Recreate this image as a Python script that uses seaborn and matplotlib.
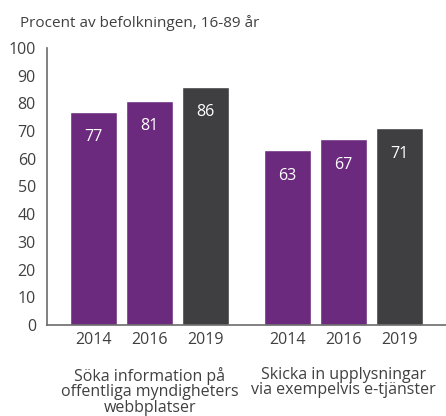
import matplotlib
matplotlib.use("Agg")
import matplotlib.pyplot as plt
import matplotlib.transforms as mtransforms
import seaborn as sns
import pandas as pd

categories = ["Söka information på\noffentliga myndigheters\nwebbplatser",
              "Skicka in upplysningar\nvia exempelvis e-tjänster"]
years = ["2014", "2016", "2019"]
values_cat1 = [77, 81, 86]
values_cat2 = [63, 67, 71]
yticks = list(range(0, 101, 10))
title = "Procent av befolkningen, 16-89 år"

purple = "#6C2A7E"
dark = "#3F3F41"
textc = "#404040"

sns.set_theme(style="white")
plt.rcParams['font.family'] = ['Open Sans', 'DejaVu Sans']

rows = []
for cat, vals in zip(categories, [values_cat1, values_cat2]):
    for y, v in zip(years, vals):
        rows.append({"cat": cat, "year": y, "value": v})
df = pd.DataFrame(rows)

fig = plt.figure(figsize=(4.46, 4.16), dpi=100)
ax = fig.add_axes([47/446, (416-325)/416, 1 - 47/446, (325-48)/416])

sns.barplot(data=df, x="cat", y="value", hue="year", hue_order=years, order=categories,
            palette={"2014": purple, "2016": purple, "2019": dark},
            width=0.87, gap=0.16, saturation=1, ax=ax, legend=False, errorbar=None)

for c in ax.containers:
    ax.bar_label(c, fmt="%d", padding=-24, color="white", fontsize=11.5)

ax.set_ylim(0, 100)
ax.set_xlim(-0.531, 1.531)
ax.set_yticks(yticks)
ax.set_yticklabels([str(t) for t in yticks], fontsize=11.5, color=textc)
ax.tick_params(axis="y", length=0, pad=8)

centers = []
labels = []
for c, y in zip(ax.containers, years):
    for p in c.patches:
        centers.append(p.get_x() + p.get_width() / 2)
        labels.append(y)
ax.set_xticks(centers)
ax.set_xticklabels(labels, fontsize=11.5, color=textc)
ax.tick_params(axis="x", length=0, pad=5)
ax.set_xlabel("")
ax.set_ylabel("")

trans = mtransforms.blended_transform_factory(ax.transData, ax.transAxes)
for i, cat in enumerate(categories):
    ax.text(i, -0.15, cat, transform=trans, ha="center", va="top",
            fontsize=11.5, color=textc, linespacing=0.98)

for s in ["top", "right"]:
    ax.spines[s].set_visible(False)
for s in ["left", "bottom"]:
    ax.spines[s].set_color("#6b6b6b")
    ax.spines[s].set_linewidth(1.2)

fig.text(20/446, 1 - 23/416, title, ha="left", va="center", fontsize=11, color=textc)

fig.savefig("out.png", dpi=100)
